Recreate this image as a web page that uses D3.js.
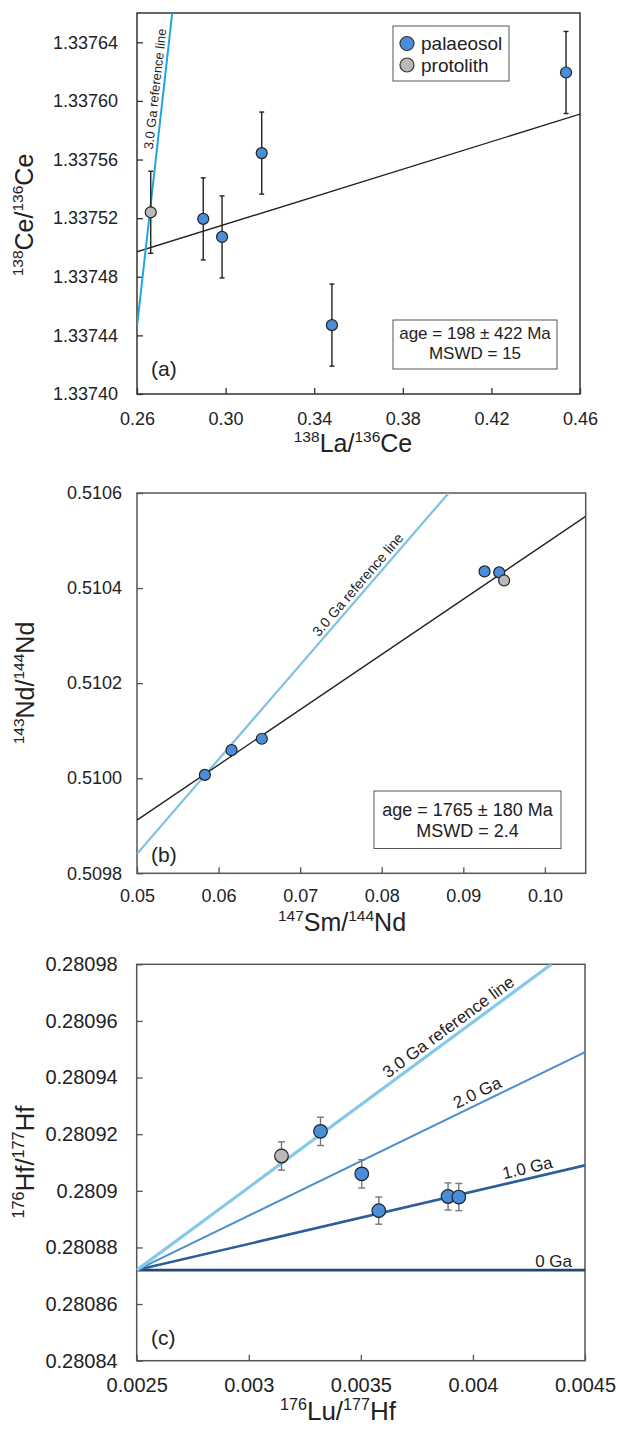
<!DOCTYPE html>
<html>
<head>
<meta charset="utf-8">
<script src="https://cdn.jsdelivr.net/npm/d3@7"></script>
<style>
  body { margin: 0; background: #fff; }
  text { font-family: "Liberation Sans", Arial, sans-serif; fill: #222; }
</style>
</head>
<body>
<div id="chart"></div>
<script>
// ---------- panel (a): La-Ce ----------
const ceX = [0.2662, 0.2899, 0.2984, 0.3163, 0.3480, 0.4537];
const ceY = [1.337524, 1.3375195, 1.3375072, 1.3375644, 1.337447, 1.3376194];
const ceErr = [0.000028, 0.000028, 0.000028, 0.000028, 0.000028, 0.000028];
const ceType = ["protolith", "palaeosol", "palaeosol", "palaeosol", "palaeosol", "palaeosol"];
const ceFit = [[0.26, 1.337497], [0.46, 1.337591]];
const ceRef = [[0.26, 1.337446], [0.2759, 1.33766]];
const ceXTicks = [0.26, 0.30, 0.34, 0.38, 0.42, 0.46];
const ceXLabels = ["0.26", "0.30", "0.34", "0.38", "0.42", "0.46"];
const ceYTicks = [1.33740, 1.33744, 1.33748, 1.33752, 1.33756, 1.33760, 1.33764];
const ceYLabels = ["1.33740", "1.33744", "1.33748", "1.33752", "1.33756", "1.33760", "1.33764"];

// ---------- panel (b): Sm-Nd ----------
const ndX = [0.05832, 0.06159, 0.0653, 0.0926, 0.0944, 0.0950];
const ndY = [0.510007, 0.510059, 0.510083, 0.510435, 0.510433, 0.510416];
const ndType = ["palaeosol", "palaeosol", "palaeosol", "palaeosol", "palaeosol", "protolith"];
const ndFit = [[0.05, 0.509912], [0.105, 0.510551]];
const ndRef = [[0.05, 0.509841], [0.0882, 0.5106]];
const ndXTicks = [0.05, 0.06, 0.07, 0.08, 0.09, 0.10];
const ndXLabels = ["0.05", "0.06", "0.07", "0.08", "0.09", "0.10"];
const ndYTicks = [0.5098, 0.5100, 0.5102, 0.5104, 0.5106];
const ndYLabels = ["0.5098", "0.5100", "0.5102", "0.5104", "0.5106"];

// ---------- panel (c): Lu-Hf ----------
const hfX = [0.003146, 0.00332, 0.003504, 0.00358, 0.003889, 0.003937];
const hfY = [0.2809123, 0.280921, 0.280906, 0.280893, 0.280898, 0.2808978];
const hfErr = [0.000005, 0.000005, 0.000005, 0.0000048, 0.0000048, 0.0000048];
const hfType = ["protolith", "palaeosol", "palaeosol", "palaeosol", "palaeosol", "palaeosol"];
const hfRefNames = ["0 Ga", "1.0 Ga", "2.0 Ga", "3.0 Ga reference line"];
const hfRefLines = [
  [[0.0025, 0.280872], [0.0045, 0.280872]],
  [[0.0025, 0.280872], [0.0045, 0.280909]],
  [[0.0025, 0.280872], [0.0045, 0.280949]],
  [[0.0025, 0.280872], [0.00435, 0.28098]]
];
const hfXTicks = [0.0025, 0.003, 0.0035, 0.004, 0.0045];
const hfXLabels = ["0.0025", "0.003", "0.0035", "0.004", "0.0045"];
const hfYTicks = [0.28084, 0.28086, 0.28088, 0.2809, 0.28092, 0.28094, 0.28096, 0.28098];
const hfYLabels = ["0.28084", "0.28086", "0.28088", "0.2809", "0.28092", "0.28094", "0.28096", "0.28098"];

const fillOf = { palaeosol: "#4a8edb", protolith: "#b9b9b9" };

const svg = d3.select("#chart").append("svg")
  .attr("width", 619)
  .attr("height", 1429);

// superscript-aware text: parts = [[text, isSup], ...]
function richText(g, parts, size) {
  const t = g.append("text").attr("font-size", size);
  let up = false;
  parts.forEach(([s, sup]) => {
    const ts = t.append("tspan").text(s);
    if (sup) {
      ts.attr("font-size", size * 0.62).attr("dy", up ? 0 : -size * 0.4);
      up = true;
    } else {
      ts.attr("dy", up ? size * 0.4 : 0);
      up = false;
    }
  });
  return t;
}

function makePanel(o) {
  const g = svg.append("g");
  const x = d3.scaleLinear().domain(o.xDomain).range([o.left, o.right]);
  const y = d3.scaleLinear().domain(o.yDomain).range([o.bottom, o.top]);
  const id = "clip" + o.name;

  g.append("clipPath").attr("id", id).append("rect")
    .attr("x", o.left).attr("y", o.top)
    .attr("width", o.right - o.left).attr("height", o.bottom - o.top);

  // axes with inward ticks
  const xa = g.append("g")
    .attr("transform", `translate(0,${o.bottom})`)
    .call(d3.axisBottom(x).tickValues(o.xTicks)
      .tickFormat((d, i) => o.xLabels[i])
      .tickSize(-6).tickPadding(o.xPad));
  const ya = g.append("g")
    .attr("transform", `translate(${o.left},0)`)
    .call(d3.axisLeft(y).tickValues(o.yTicks)
      .tickFormat((d, i) => o.yLabels[i])
      .tickSize(-6).tickPadding(o.yPad));
  [xa, ya].forEach(a => {
    a.select(".domain").remove();
    a.selectAll("line").attr("stroke", o.frame).attr("stroke-width", 1.3);
    a.selectAll("text").attr("font-size", o.tickSize).attr("fill", "#222")
      .attr("font-family", '"Liberation Sans", Arial, sans-serif');
  });

  g.append("rect")
    .attr("x", o.left).attr("y", o.top)
    .attr("width", o.right - o.left).attr("height", o.bottom - o.top)
    .attr("fill", "none").attr("stroke", o.frame).attr("stroke-width", 1.5);

  const lines = g.append("g").attr("clip-path", `url(#${id})`);
  const line = d3.line().x(d => x(d[0])).y(d => y(d[1]));

  return { g, x, y, lines, line };
}

function lineLabel(p, seg, txt, t, off, size, anchor) {
  const x0 = p.x(seg[0][0]), y0 = p.y(seg[0][1]);
  const x1 = p.x(seg[1][0]), y1 = p.y(seg[1][1]);
  const ang = Math.atan2(y1 - y0, x1 - x0) * 180 / Math.PI;
  p.g.append("text")
    .attr("transform", `translate(${x0 + (x1 - x0) * t},${y0 + (y1 - y0) * t}) rotate(${ang})`)
    .attr("y", off)
    .attr("text-anchor", anchor || "middle")
    .attr("font-size", size)
    .text(txt);
}

function drawPoints(p, xs, ys, types, r, errs, errColor, capW) {
  if (errs) {
    const eg = p.g.append("g").attr("stroke", errColor).attr("stroke-width", 1.4);
    xs.forEach((xv, i) => {
      const cx = p.x(xv), lo = p.y(ys[i] - errs[i]), hi = p.y(ys[i] + errs[i]);
      eg.append("line").attr("x1", cx).attr("x2", cx).attr("y1", lo).attr("y2", hi);
      eg.append("line").attr("x1", cx - capW).attr("x2", cx + capW).attr("y1", lo).attr("y2", lo);
      eg.append("line").attr("x1", cx - capW).attr("x2", cx + capW).attr("y1", hi).attr("y2", hi);
    });
  }
  p.g.append("g").selectAll("circle")
    .data(xs.map((xv, i) => ({ x: xv, y: ys[i], type: types[i] })))
    .enter().append("circle")
    .attr("cx", d => p.x(d.x))
    .attr("cy", d => p.y(d.y))
    .attr("r", r)
    .attr("fill", d => fillOf[d.type])
    .attr("stroke", "#222")
    .attr("stroke-width", 1.2);
}

// ================= panel (a) =================
const pa = makePanel({
  name: "a", left: 137, right: 580, top: 13, bottom: 394,
  xDomain: [0.26, 0.46], yDomain: [1.3374, 1.33766],
  xTicks: ceXTicks, xLabels: ceXLabels, yTicks: ceYTicks, yLabels: ceYLabels,
  xPad: 18, yPad: 19, tickSize: 18, frame: "#333"
});
pa.lines.append("path").attr("d", pa.line(ceFit))
  .attr("stroke", "#222").attr("stroke-width", 1.4).attr("fill", "none");
pa.lines.append("path").attr("d", pa.line(ceRef))
  .attr("stroke", "#1fa6e0").attr("stroke-width", 2).attr("fill", "none");
lineLabel(pa, ceRef, "3.0 Ga reference line", 0.755, -4, 13);
drawPoints(pa, ceX, ceY, ceType, 5.5, ceErr, "#222", 2.5);

// legend
const lg = pa.g.append("g");
lg.append("rect").attr("x", 393).attr("y", 26).attr("width", 116).attr("height", 55)
  .attr("fill", "#fff").attr("stroke", "#555").attr("stroke-width", 1);
["palaeosol", "protolith"].forEach((k, i) => {
  lg.append("circle").attr("cx", 407).attr("cy", 43.5 + i * 21.5).attr("r", 7)
    .attr("fill", fillOf[k]).attr("stroke", "#333").attr("stroke-width", 1.2);
  lg.append("text").attr("x", 421).attr("y", 50 + i * 21.5).attr("font-size", 19).text(k);
});

// age box
pa.g.append("rect").attr("x", 393).attr("y", 320).attr("width", 164).attr("height", 49)
  .attr("fill", "#fff").attr("stroke", "#555").attr("stroke-width", 1);
pa.g.append("text").attr("x", 475).attr("y", 338.5).attr("text-anchor", "middle")
  .attr("font-size", 17).text("age = 198 ± 422 Ma");
pa.g.append("text").attr("x", 475).attr("y", 358.5).attr("text-anchor", "middle")
  .attr("font-size", 17).text("MSWD = 15");
pa.g.append("text").attr("x", 151).attr("y", 376).attr("font-size", 21).text("(a)");

richText(pa.g, [["138", 1], ["La/", 0], ["136", 1], ["Ce", 0]], 25)
  .attr("x", 353).attr("y", 452).attr("text-anchor", "middle");
richText(pa.g, [["138", 1], ["Ce/", 0], ["136", 1], ["Ce", 0]], 25)
  .attr("text-anchor", "middle")
  .attr("transform", "translate(33,215) rotate(-90)");

// ================= panel (b) =================
const pb = makePanel({
  name: "b", left: 137, right: 585.7, top: 493, bottom: 873.3,
  xDomain: [0.05, 0.105], yDomain: [0.5098, 0.5106],
  xTicks: ndXTicks, xLabels: ndXLabels, yTicks: ndYTicks, yLabels: ndYLabels,
  xPad: 16, yPad: 15, tickSize: 18, frame: "#555"
});
pb.lines.append("path").attr("d", pb.line(ndRef))
  .attr("stroke", "#7cc2df").attr("stroke-width", 2.2).attr("fill", "none");
pb.lines.append("path").attr("d", pb.line(ndFit))
  .attr("stroke", "#222").attr("stroke-width", 1.4).attr("fill", "none");
lineLabel(pb, ndRef, "3.0 Ga reference line", 0.73, -4, 14);
drawPoints(pb, ndX, ndY, ndType, 5.5);

pb.g.append("rect").attr("x", 374).attr("y", 791).attr("width", 187).attr("height", 57.5)
  .attr("fill", "#fff").attr("stroke", "#555").attr("stroke-width", 1);
pb.g.append("text").attr("x", 467.5).attr("y", 816).attr("text-anchor", "middle")
  .attr("font-size", 18).text("age = 1765 ± 180 Ma");
pb.g.append("text").attr("x", 467.5).attr("y", 836.5).attr("text-anchor", "middle")
  .attr("font-size", 18).text("MSWD = 2.4");
pb.g.append("text").attr("x", 151).attr("y", 862).attr("font-size", 21).text("(b)");

richText(pb.g, [["147", 1], ["Sm/", 0], ["144", 1], ["Nd", 0]], 25)
  .attr("x", 342).attr("y", 931).attr("text-anchor", "middle");
richText(pb.g, [["143", 1], ["Nd/", 0], ["144", 1], ["Nd", 0]], 25)
  .attr("text-anchor", "middle")
  .attr("transform", "translate(34,683) rotate(-90)");

// ================= panel (c) =================
const pc = makePanel({
  name: "c", left: 136.7, right: 585, top: 964.3, bottom: 1360.7,
  xDomain: [0.0025, 0.0045], yDomain: [0.28084, 0.28098],
  xTicks: hfXTicks, xLabels: hfXLabels, yTicks: hfYTicks, yLabels: hfYLabels,
  xPad: 17, yPad: 19, tickSize: 20, frame: "#555"
});
const hfColors = ["#22466f", "#2c5f9a", "#4d8fcc", "#86c8e8"];
const hfWidths = [2.6, 2.6, 2, 3.2];
hfRefLines.forEach((seg, i) => {
  pc.lines.append("path").attr("d", pc.line(seg))
    .attr("stroke", hfColors[i]).attr("stroke-width", hfWidths[i]).attr("fill", "none");
});
lineLabel(pc, hfRefLines[0], hfRefNames[0], 0.971, -3, 17, "end");
lineLabel(pc, hfRefLines[1], hfRefNames[1], 0.877, -5, 17);
lineLabel(pc, hfRefLines[2], hfRefNames[2], 0.77, -5, 17);
lineLabel(pc, hfRefLines[3], hfRefNames[3], 0.767, -5, 17);
drawPoints(pc, hfX, hfY, hfType, 6.8, hfErr, "#777", 3.5);

pc.g.append("text").attr("x", 151).attr("y", 1345).attr("font-size", 21).text("(c)");

richText(pc.g, [["176", 1], ["Lu/", 0], ["177", 1], ["Hf", 0]], 26)
  .attr("x", 338).attr("y", 1420).attr("text-anchor", "middle");
richText(pc.g, [["176", 1], ["Hf/", 0], ["177", 1], ["Hf", 0]], 26)
  .attr("text-anchor", "middle")
  .attr("transform", "translate(34,1162) rotate(-90)");
</script>
</body>
</html>
